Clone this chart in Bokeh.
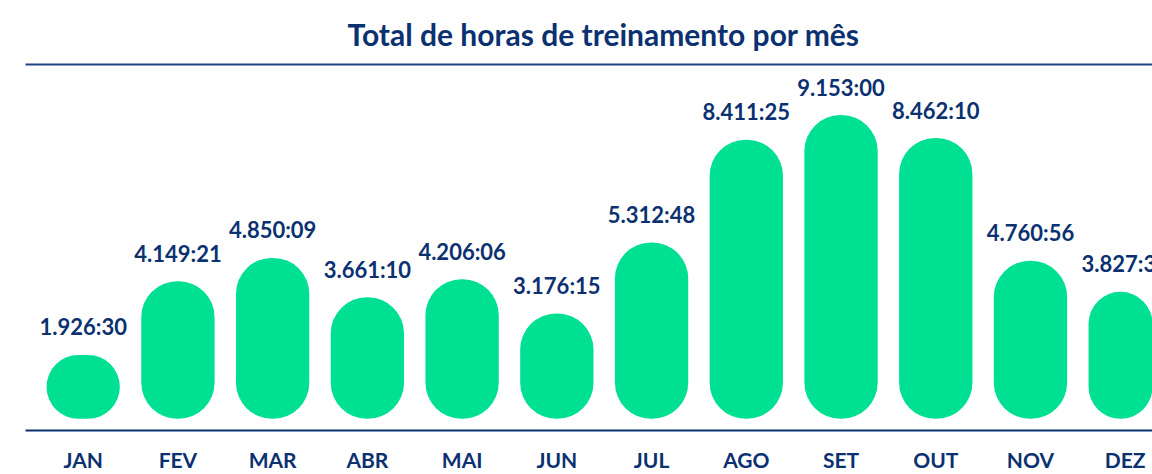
from bokeh.plotting import figure
from bokeh.models import ColumnDataSource, FixedTicker, LinearAxis, Range1d
from bokeh.core.properties import value
from bokeh.embed import file_html
from bokeh.resources import INLINE

months = ["JAN", "FEV", "MAR", "ABR", "MAI", "JUN", "JUL", "AGO", "SET", "OUT", "NOV", "DEZ"]
labels = ["1.926:30", "4.149:21", "4.850:09", "3.661:10", "4.206:06", "3.176:15",
          "5.312:48", "8.411:25", "9.153:00", "8.462:10", "4.760:56", "3.827:30"]
hours = [1926.5, 4149.35, 4850.15, 3661.17, 4206.1, 3176.25,
         5312.8, 8411.42, 9153.0, 8462.17, 4760.93, 3827.5]

NAVY = "#0b3170"
LINE = "#1c4384"
GREEN = "#00e092"
FONT = "Lato"

x = list(range(len(months)))
src = ColumnDataSource(dict(x=x, hours=hours, label=labels))

p = figure(width=1152, height=474, output_backend="svg", toolbar_location=None,
           x_range=Range1d(-0.609, 11.288), y_range=Range1d(-352, 10678),
           y_axis_location=None, min_border_left=25, min_border_right=0,
           min_border_top=62, min_border_bottom=36,
           title="Total de horas de treinamento por mês")
p.outline_line_color = None
p.grid.visible = False
p.background_fill_color = "white"
p.border_fill_color = "white"

p.title.align = "left"
p.title.offset = 322
p.title.standoff = 26
p.title.text_font = FONT
p.title.text_font_style = "bold"
p.title.text_font_size = "30px"
p.title.text_color = NAVY

xa = p.below[0]
xa.ticker = FixedTicker(ticks=x)
xa.major_label_overrides = {i: m for i, m in zip(x, months)}
xa.axis_line_color = NAVY
xa.axis_line_width = 2
xa.major_tick_line_color = None
xa.minor_tick_line_color = None
xa.major_label_text_font = FONT
xa.major_label_text_font_style = "bold"
xa.major_label_text_font_size = "21px"
xa.major_label_text_color = NAVY
xa.major_label_standoff = 10

top_axis = LinearAxis(ticker=FixedTicker(ticks=[]), axis_line_color=LINE, axis_line_width=2,
                      major_tick_line_color=None, minor_tick_line_color=None,
                      major_label_standoff=0)
p.add_layout(top_axis, "above")

p.vbar(x="x", top="hours", bottom=0, width=0.774, source=src, color=GREEN,
       line_color=None, border_radius=36)

p.text(x="x", y="hours", text="label", source=src, y_offset=-28,
       text_align="center", text_baseline="middle", text_font=value(FONT),
       text_font_style="bold", text_font_size="22px", text_color=NAVY)

open("out.html", "w").write(file_html(p, INLINE))
